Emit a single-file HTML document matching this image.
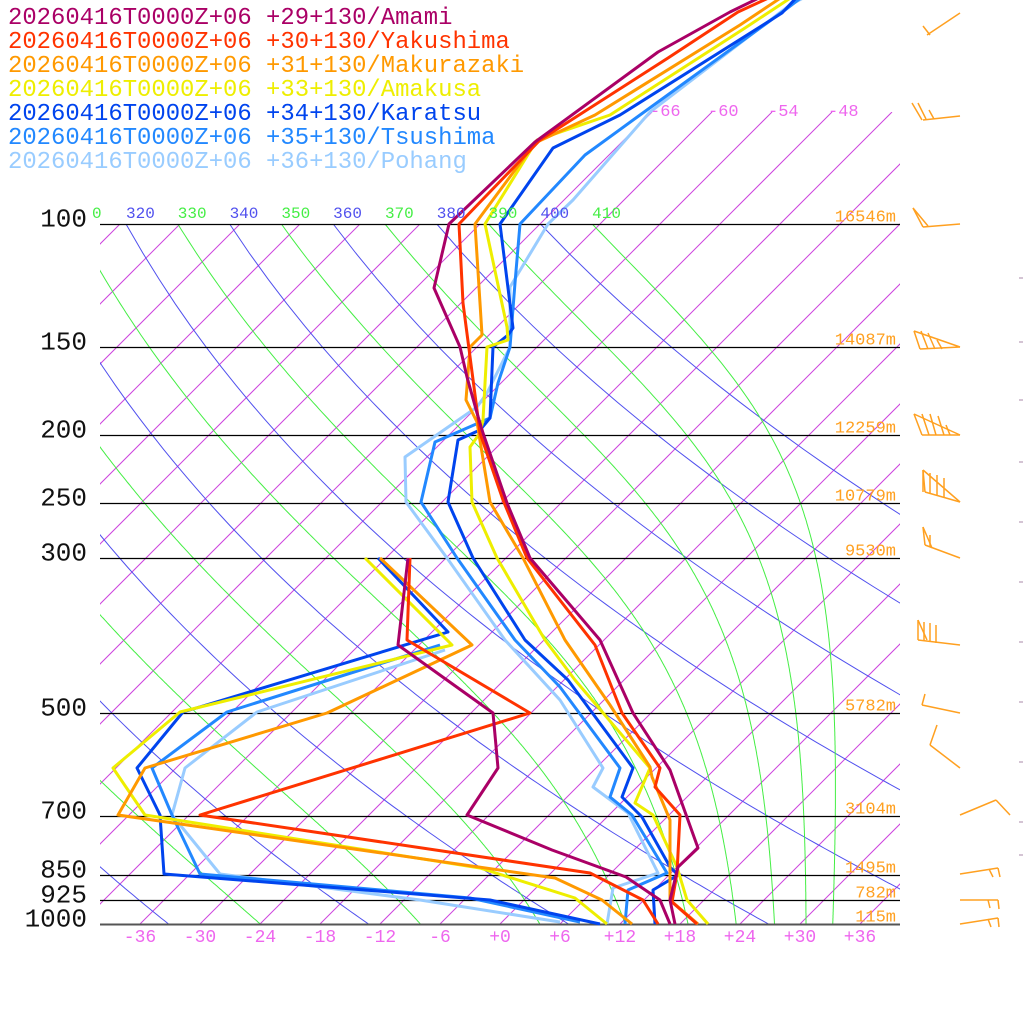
<!DOCTYPE html>
<html><head><meta charset="utf-8">
<style>
html,body{margin:0;padding:0;background:#fff;}
svg{display:block;}
</style></head>
<body>
<svg id="c" xmlns="http://www.w3.org/2000/svg" width="1024" height="1024" viewBox="0 0 1024 1024">
<defs>
<clipPath id="pc"><rect x="100" y="224" width="800" height="700"/></clipPath>
<clipPath id="ic"><rect x="100" y="224" width="800" height="700"/><rect x="535" y="112" width="365" height="113"/></clipPath>
</defs>
<g id="bg"></g>
<g id="tr" fill="none" stroke-width="3" stroke-linejoin="round"></g>
<g id="wb" fill="none" stroke="#ffa020" stroke-width="1.5"></g>
<g id="tx"></g>
</svg>
<script>
(function(){
var NS="http://www.w3.org/2000/svg";
var MONO="'Liberation Mono', monospace";
function el(parent,tag,attrs,text){var e=document.createElementNS(NS,tag);for(var k in attrs)e.setAttribute(k,attrs[k]);if(text!==undefined)e.textContent=text;parent.appendChild(e);return e;}
var bg=document.getElementById('bg'),tr=document.getElementById('tr'),wb=document.getElementById('wb'),tx=document.getElementById('tx');
function Y(p){return 224+Math.log(p/100)/Math.LN10*700;}
function X(Tc,y){return 500+10*Tc+(924-y);}
var ig=el(bg,'g',{'clip-path':'url(#ic)',stroke:'#cc44dd','stroke-width':'1',fill:'none'});
for(var T=-150;T<=60;T+=6){
  var yt=(T>=-66)?112:224;
  el(ig,'line',{x1:X(T,924),y1:924,x2:X(T,yt),y2:yt});
}
var dg=el(bg,'g',{'clip-path':'url(#pc)',stroke:'#5050ee','stroke-width':'1',fill:'none'});
var gg=el(bg,'g',{'clip-path':'url(#pc)',stroke:'#44ee44','stroke-width':'1',fill:'none'});
for(var th=240;th<=400;th+=20){
  var pts=[];
  for(var p=100;p<=1000;p+=10){var y=Y(p);var Tk=th*Math.pow(p/1000,0.2857);pts.push(X(Tk-273.15,y).toFixed(1)+','+y.toFixed(1));}
  el(dg,'polyline',{points:pts.join(' ')});
}
function es(Tk){var t=Tk-273.15;return 6.112*Math.exp(17.67*t/(t+243.5));}
for(var th=230;th<=410;th+=20){
  var Tk=th*Math.pow(0.1,0.2857);var pts=[];
  for(var p=100;p<=1000;p+=2){
    var y=Y(p);pts.push(X(Tk-273.15,y).toFixed(1)+','+y.toFixed(1));
    var e=es(Tk);var rs=0.622*e/(p-e);
    var dTdp=(287*Tk+2.5e6*rs)/(p*(1004+2.5e6*2.5e6*rs*0.622/(287*Tk*Tk)));
    Tk+=dTdp*2;
  }
  el(gg,'polyline',{points:pts.join(' ')});
}
var lev=[[100,'16546m'],[150,'14087m'],[200,'12259m'],[250,'10779m'],[300,'9530m'],[500,'5782m'],[700,'3104m'],[850,'1495m'],[925,'782m'],[1000,'115m']];
lev.forEach(function(l){var y=Math.round(Y(l[0]))+0.5;
  el(bg,'line',{x1:100,x2:900,y1:y,y2:y,stroke:l[0]==1000?'#555':'#000','stroke-width':l[0]==1000?2:1.2});
  el(tx,'text',{x:87,y:y+2,'text-anchor':'end','font-family':MONO,'font-size':'26',fill:'#111'},String(l[0]));
  el(tx,'text',{x:896,y:y-3,'text-anchor':'end','font-family':MONO,'font-size':'17',fill:'#ffa020'},l[1]);
});
var tl=[[310,'#44ee44'],[320,'#5050ee'],[330,'#44ee44'],[340,'#5050ee'],[350,'#44ee44'],[360,'#5050ee'],[370,'#44ee44'],[380,'#5050ee'],[390,'#44ee44'],[400,'#5050ee'],[410,'#44ee44']];
tl.forEach(function(t){var x=X(t[0]*Math.pow(0.1,0.2857)-273.15,224);
  if(t[0]==310)x=92;
  el(tx,'text',{x:x,y:218,'font-family':MONO,'font-size':'16',fill:t[1]},t[0]==310?'0':String(t[0]));});
for(var i=0;i<13;i++){var T=-36+6*i;var s=T>0?'+'+T:(T==0?'+0':'-'+(-T));
  el(tx,'text',{x:140+60*i,y:942,'text-anchor':'middle','font-family':MONO,'font-size':'18',fill:'#ee66ee'},s);}
[[-66,650],[-60,708],[-54,768],[-48,828]].forEach(function(t){el(tx,'text',{x:t[1],y:116,'font-family':MONO,'font-size':'17',fill:'#ee66ee'},String(t[0]));});
var leg=[['#aa0066','+29+130/Amami'],['#ff3300','+30+130/Yakushima'],['#ff9900','+31+130/Makurazaki'],['#eeee00','+33+130/Amakusa'],['#0044ee','+34+130/Karatsu'],['#2288ff','+35+130/Tsushima'],['#99ccff','+36+130/Pohang']];
leg.forEach(function(l,i){el(tx,'text',{x:8,y:24+24*i,'font-family':MONO,'font-size':'23.9',fill:l[0]},'20260416T0000Z+06 '+l[1]);});
var T={
'#aa0066':[[[765,-5],[730,12],[658,52],[535,142],[449,224],[434,288],[460,347],[467,377],[477,413],[483,433],[507,503],[530,558],[600,640],[633,713],[670,770],[698,848],[678,867],[670,900],[675,924]],
 [[408,558],[398,645],[493,713],[498,768],[467,815],[552,850],[626,877],[660,900],[670,924]]],
'#ff3300':[[[775,-5],[738,12],[668,58],[540,140],[459,224],[463,303],[480,433],[503,500],[527,558],[595,645],[622,713],[660,768],[655,787],[680,815],[677,873],[672,902],[697,924]],
 [[410,558],[407,640],[530,713],[200,815],[590,873],[643,900],[658,924]]],
'#ff9900':[[[782,-3],[740,25],[595,115],[535,143],[475,224],[480,303],[482,335],[470,347],[466,400],[477,422],[490,502],[523,558],[565,640],[610,705],[650,767],[652,777],[670,820],[670,900],[698,924]],
 [[380,558],[472,645],[327,713],[145,768],[118,815],[555,878],[602,900],[632,924]]],
'#eeee00':[[[792,-3],[745,28],[610,115],[537,140],[485,224],[507,327],[508,340],[487,347],[483,420],[480,433],[470,447],[472,502],[497,558],[545,640],[575,680],[650,768],[635,803],[653,815],[677,867],[687,900],[708,924]],
 [[365,558],[452,645],[180,712],[113,768],[145,815],[480,868],[575,898],[607,924]]],
'#0044ee':[[[797,-3],[782,13],[620,115],[553,148],[500,224],[513,328],[508,335],[493,347],[490,418],[480,430],[458,440],[448,502],[473,558],[525,640],[568,680],[633,768],[622,797],[642,817],[670,867],[678,875],[653,890],[655,924]],
 [[378,558],[448,632],[183,712],[137,768],[160,815],[164,874],[490,900],[600,924]]],
'#2288ff':[[[802,-3],[785,10],[640,115],[585,155],[520,224],[515,283],[510,347],[498,383],[490,418],[435,442],[421,502],[457,558],[515,640],[560,687],[620,768],[610,797],[632,815],[667,873],[628,890],[625,924]],
 [[440,645],[227,712],[152,768],[172,815],[200,874],[470,898],[580,922]]],
'#99ccff':[[[805,-3],[790,5],[650,112],[573,200],[548,224],[510,287],[510,347],[487,393],[477,407],[405,457],[406,502],[447,558],[505,640],[560,700],[603,768],[593,787],[628,813],[658,873],[613,888],[607,924]],
 [[445,650],[257,712],[185,768],[172,815],[220,874],[420,900],[560,922]]]
};
function pl(a){return a.map(function(p){return p[0]+','+p[1];}).join(' ');}
['#99ccff','#2288ff','#0044ee','#eeee00','#ff9900','#ff3300','#aa0066'].forEach(function(c){
  el(tr,'polyline',{points:pl(T[c][0]),stroke:c});el(tr,'polyline',{points:pl(T[c][1]),stroke:c});});
var B=[
 [[927,35],[960,13]],[[923,26],[930,35]],
 [[923,120],[960,116]],[[912,103],[922,120]],[[918,103],[926,119]],[[929,110],[934,119]],
 [[923,227],[960,224]],[[913,208],[923,227]],[[913,208],[928,226]],
 [[914,331],[960,347]],[[914,331],[920,349]],[[921,331],[928,349]],[[928,333],[935,349]],[[937,340],[942,349]],[[920,349],[960,347]],
 [[914,414],[922,435]],[[914,414],[960,435]],[[922,414],[929,435]],[[930,414],[936,435]],[[938,416],[944,435]],[[946,425],[950,435]],[[922,435],[960,435]],
 [[923,470],[960,502]],[[923,470],[925,492]],[[923,470],[923,492]],[[930,473],[930,494]],[[937,475],[937,496]],[[944,478],[944,498]],[[925,492],[960,502]],
 [[923,527],[925,545]],[[925,545],[960,558]],[[930,535],[930,547]],[[923,527],[932,548]],
 [[918,620],[918,640]],[[918,640],[960,645]],[[924,622],[924,641]],[[930,623],[930,642]],[[936,625],[936,643]],[[918,620],[927,640]],
 [[922,705],[960,713]],[[922,705],[925,694]],
 [[930,745],[960,768]],[[930,745],[937,725]],
 [[960,815],[996,800]],[[996,800],[1010,815]],
 [[960,874],[998,868]],[[989,869],[993,877]],[[998,868],[1000,877]],
 [[960,900],[998,900]],[[988,900],[990,908]],[[998,900],[999,909]],
 [[960,924],[998,918]],[[988,919],[991,927]],[[998,918],[999,927]]
];
B.forEach(function(b){el(wb,'line',{x1:b[0][0],y1:b[0][1],x2:b[1][0],y2:b[1][1]});});
[278,342,400,462,522,582,642,702,762,822,855].forEach(function(y){el(bg,'line',{x1:1019,x2:1023,y1:y,y2:y,stroke:'#aa88aa','stroke-width':'1'});});
})();
</script>
</body></html>
